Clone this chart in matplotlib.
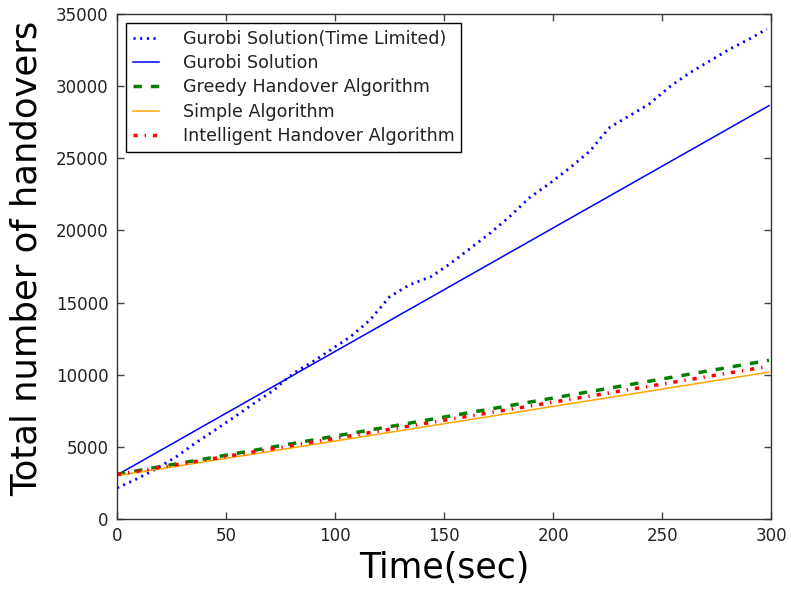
import matplotlib
matplotlib.use("Agg")
import matplotlib.pyplot as plt

plt.rcParams['font.family'] = ['DejaVu Sans']
plt.rcParams['lines.scale_dashes'] = False

# Gurobi Solution (Time Limited)
t_limited = [0, 8, 17, 27, 36, 45, 54, 63, 72, 77, 82, 91, 98, 107, 116, 125,
             134, 144, 153, 162, 171, 180, 189, 199, 208, 217, 222, 226, 235,
             244, 254, 263, 272, 281, 290, 298]
y_limited = [2150, 2700, 3400, 4300, 5270, 6170, 7090, 8040, 8940, 9630, 10200,
             11020, 11730, 12630, 13790, 15400, 16220, 16800, 17720, 18760,
             19800, 20950, 22250, 23330, 24380, 25520, 26450, 27150, 27950,
             28760, 30030, 30960, 31760, 32570, 33270, 33960]

t_lin = [0, 299]
y_gurobi = [3050, 28650]
y_greedy = [3100, 11000]
y_simple = [3000, 10180]
y_intelligent = [3080, 10580]

labels = ["Gurobi Solution(Time Limited)", "Gurobi Solution",
          "Greedy Handover Algorithm", "Simple Algorithm",
          "Intelligent Handover Algorithm"]

xticks = [0, 50, 100, 150, 200, 250, 300]
yticks = [0, 5000, 10000, 15000, 20000, 25000, 30000, 35000]

fig = plt.figure(figsize=(7.91, 5.94), dpi=100)
ax = fig.add_axes([0.148, 0.1263, 0.827, 0.8501])

ax.plot(t_limited, y_limited, color='blue', lw=2, dashes=(1.5, 3.3), label=labels[0])
ax.plot(t_lin, y_gurobi, color='blue', lw=1.1, label=labels[1])
ax.plot(t_lin, y_greedy, color='green', lw=2.5, dashes=(6, 6.5), label=labels[2])
ax.plot(t_lin, y_simple, color='orange', lw=1.1, label=labels[3])
ax.plot(t_lin, y_intelligent, color='red', lw=2.5, dashes=(3, 5, 1, 5), label=labels[4])

ax.set_xlim(0, 300)
ax.set_ylim(0, 35000)
ax.set_xticks(xticks)
ax.set_yticks(yticks)
ax.tick_params(direction='in', length=5, width=1, top=True, right=True,
               labelsize=12, pad=6, color='#444444', labelcolor='#222222')
for s in ax.spines.values():
    s.set_color('#333333')
    s.set_linewidth(1)

ax.set_xlabel("Time(sec)", fontsize=25, labelpad=4)
ax.set_ylabel("Total number of handovers", fontsize=25.5)
ax.yaxis.set_label_coords(-0.113, 0.517)

leg = ax.legend(loc='upper left', fontsize=12.6, handlelength=1.5,
                handletextpad=1.35, labelspacing=0.36, borderaxespad=0.5,
                fancybox=False, framealpha=1)
leg.get_frame().set_edgecolor('black')
leg.get_frame().set_linewidth(1)
for txt in leg.get_texts():
    txt.set_color('#222222')

fig.savefig("out.png", dpi=100)
